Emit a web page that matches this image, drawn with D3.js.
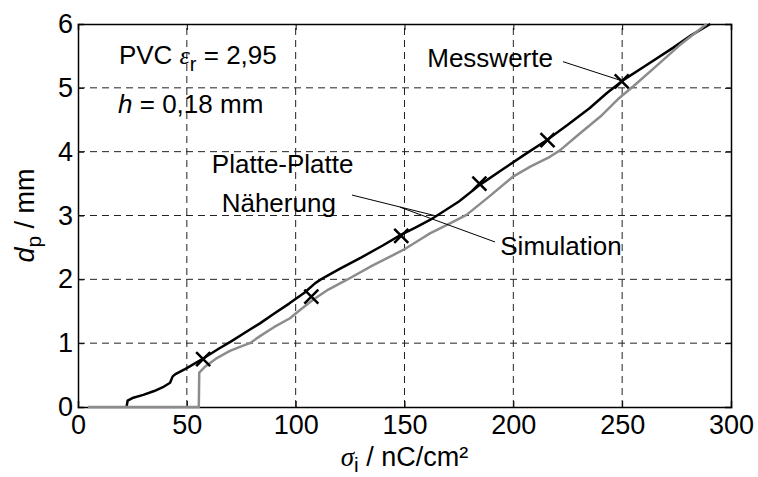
<!DOCTYPE html>
<html>
<head>
<meta charset="utf-8">
<script src="https://cdn.jsdelivr.net/npm/d3@7"></script>
<style>
  body { margin: 0; background: #fff; }
  svg { display: block; }
  text { font-family: "Liberation Sans", Arial, sans-serif; fill: #000; }
</style>
</head>
<body>
<svg id="chart"></svg>
<script>
// Platte-Platte Näherung (black line)
var naeherungX = [22.3, 22.8, 25, 30, 35, 39, 42.3, 43.5, 45, 50, 57.5, 65, 70, 77, 83.6, 90, 97, 104, 109, 112.6, 120, 130, 140, 148.5, 155, 161.7, 165, 175, 184.6, 195, 205, 215.3, 225, 235, 243, 250.5, 260, 273.5, 282, 290.5];
var naeherungY = [0, 0.10, 0.14, 0.19, 0.25, 0.31, 0.38, 0.48, 0.52, 0.61, 0.76, 0.92, 1.02, 1.17, 1.31, 1.46, 1.62, 1.79, 1.94, 2.02, 2.16, 2.34, 2.53, 2.70, 2.81, 2.93, 3.00, 3.22, 3.48, 3.72, 3.95, 4.18, 4.42, 4.68, 4.92, 5.12, 5.33, 5.63, 5.83, 6.00];

// Simulation (gray line)
var simX = [4.6, 55.5, 55.7, 58.3, 64, 69.8, 75, 79, 83.6, 90, 97.4, 102, 108, 115, 123.4, 135, 149.4, 157, 161.7, 170, 178.5, 189, 199.9, 208, 216.8, 221.4, 230, 240, 248, 255, 265, 276.5, 288.8];
var simY = [0, 0, 0.54, 0.63, 0.77, 0.88, 0.95, 1.00, 1.11, 1.25, 1.39, 1.52, 1.68, 1.84, 1.99, 2.21, 2.46, 2.62, 2.72, 2.86, 3.01, 3.30, 3.61, 3.77, 3.92, 4.02, 4.27, 4.55, 4.82, 5.02, 5.32, 5.67, 6.00];

// Messwerte (x markers)
var messX = [57.5, 107.2, 148.5, 184.4, 215.7, 249.8];
var messY = [0.75, 1.73, 2.68, 3.50, 4.18, 5.10];

var xTicks = [0, 50, 100, 150, 200, 250, 300];
var yTicks = [0, 1, 2, 3, 4, 5, 6];

var svgWidth = 758, svgHeight = 477;
var margin = { top: 24, right: 27, bottom: 70, left: 78 };

var svg = d3.select("#chart")
	.attr("width", svgWidth)
	.attr("height", svgHeight);

var x = d3.scaleLinear().domain([0, 300]).range([margin.left, svgWidth - margin.right]);
var y = d3.scaleLinear().domain([0, 6]).range([svgHeight - margin.bottom, margin.top]);

//dashed grid
var grid = svg.append("g")
	.attr("stroke", "#222")
	.attr("stroke-width", 1)
	.attr("stroke-dasharray", "7,5");
grid.selectAll(".gx").data(xTicks.slice(1, -1)).join("line")
	.attr("x1", d => x(d)).attr("x2", d => x(d))
	.attr("y1", y(0)).attr("y2", y(6));
grid.selectAll(".gy").data(yTicks.slice(1, -1)).join("line")
	.attr("y1", d => y(d)).attr("y2", d => y(d))
	.attr("x1", x(0)).attr("x2", x(300));

//axes, ticks pointing inwards
var fmt = d3.format("d");
var xAxis = svg.append("g")
	.attr("transform", `translate(0,${y(0)})`)
	.call(d3.axisBottom(x).tickValues(xTicks).tickFormat(fmt).tickSize(-6).tickPadding(8));
var yAxis = svg.append("g")
	.attr("transform", `translate(${x(0)},0)`)
	.call(d3.axisLeft(y).tickValues(yTicks).tickFormat(fmt).tickSize(-6).tickPadding(5));
svg.append("g")
	.attr("transform", `translate(0,${y(6)})`)
	.call(d3.axisTop(x).tickValues(xTicks).tickFormat("").tickSize(-6));
svg.append("g")
	.attr("transform", `translate(${x(300)},0)`)
	.call(d3.axisRight(y).tickValues(yTicks).tickFormat("").tickSize(-6));

svg.selectAll(".domain").attr("stroke", "#000").attr("stroke-width", 1.5);
svg.selectAll(".tick line").attr("stroke", "#000");
svg.selectAll(".tick text")
	.style("font-family", "'Liberation Sans', Arial, sans-serif")
	.style("font-size", "27px")
	.attr("fill", "#000");

var line = d3.line()
	.x(d => x(d[0]))
	.y(d => y(d[1]));

svg.append("path")
	.datum(d3.zip(naeherungX, naeherungY))
	.attr("fill", "none")
	.attr("stroke", "#000")
	.attr("stroke-width", 2.5)
	.attr("stroke-linejoin", "round")
	.attr("d", line);

svg.append("path")
	.datum(d3.zip(simX, simY))
	.attr("fill", "none")
	.attr("stroke", "#8c8c8c")
	.attr("stroke-width", 2.5)
	.attr("stroke-linejoin", "round")
	.attr("d", line);

//measurement crosses
var m = 7;
svg.append("g")
	.attr("stroke", "#000")
	.attr("stroke-width", 2.5)
	.selectAll("path")
	.data(d3.zip(messX, messY))
	.join("path")
	.attr("d", d => {
		var px = x(d[0]), py = y(d[1]);
		return `M${px - m},${py - m}L${px + m},${py + m}M${px - m},${py + m}L${px + m},${py - m}`;
	});

//annotation texts and leader lines
var fs = "26px";
var t1 = svg.append("text").attr("x", x(18.8)).attr("y", y(5.37)).style("font-size", fs);
t1.append("tspan").text("PVC ");
t1.append("tspan").text("ε").style("font-family", "'Liberation Serif', serif").style("font-style", "italic");
t1.append("tspan").text("r").attr("dy", 7).style("font-size", "20px");
t1.append("tspan").text(" = 2,95").attr("dy", -7);

var t2 = svg.append("text").attr("x", x(18.4)).attr("y", y(4.61)).style("font-size", fs);
t2.append("tspan").text("h").style("font-style", "italic");
t2.append("tspan").text(" = 0,18 mm");

svg.append("text").attr("x", x(218.2)).attr("y", y(5.33)).attr("text-anchor", "end")
	.style("font-size", fs).text("Messwerte");
svg.append("text").attr("x", x(61.5)).attr("y", y(3.67)).style("font-size", fs).text("Platte-Platte");
svg.append("text").attr("x", x(66)).attr("y", y(3.05)).style("font-size", fs).text("Näherung");
svg.append("text").attr("x", x(194)).attr("y", y(2.38)).style("font-size", fs).text("Simulation");

var leaders = [
	[[222.8, 5.41], [249, 5.12]],
	[[125.9, 3.32], [164.9, 2.99]],
	[[147.9, 3.13], [191.6, 2.585]]
];
svg.append("g")
	.attr("stroke", "#000")
	.attr("stroke-width", 1)
	.selectAll("line")
	.data(leaders)
	.join("line")
	.attr("x1", d => x(d[0][0])).attr("y1", d => y(d[0][1]))
	.attr("x2", d => x(d[1][0])).attr("y2", d => y(d[1][1]));

//axis titles
var xt = svg.append("text")
	.attr("x", (x(0) + x(300)) / 2)
	.attr("y", 466)
	.attr("text-anchor", "middle")
	.style("font-size", "27px");
xt.append("tspan").text("σ").style("font-family", "'Liberation Serif', serif").style("font-style", "italic");
xt.append("tspan").text("i").attr("dy", 6).style("font-size", "21px");
xt.append("tspan").text("  / nC/cm²").attr("dy", -6);

var yt = svg.append("text")
	.attr("transform", `translate(34,${(y(0) + y(6)) / 2}) rotate(-90)`)
	.attr("text-anchor", "middle")
	.style("font-size", "27px");
yt.append("tspan").text("d").style("font-style", "italic");
yt.append("tspan").text("p").attr("dy", 7).style("font-size", "21px");
yt.append("tspan").text("  / mm").attr("dy", -7);
</script>
</body>
</html>
